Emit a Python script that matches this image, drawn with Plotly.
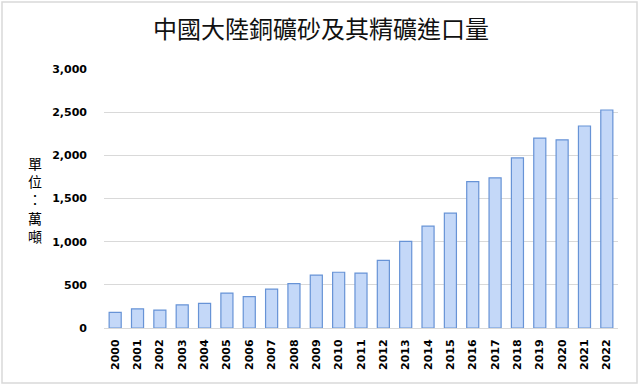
import plotly.graph_objects as go

years = [str(y) for y in range(2000, 2023)]
values = [180, 222, 208, 268, 285, 405, 363, 450, 515, 613, 646, 636,
          783, 1003, 1180, 1330, 1695, 1740, 1970, 2200, 2180, 2340, 2525]
y_ticks = [0, 500, 1000, 1500, 2000, 2500, 3000]
y_tick_labels = ["0", "500", "1,000", "1,500", "2,000", "2,500", "3,000"]
title_text = "中國大陸銅礦砂及其精礦進口量"
unit_text = "單<br>位<br>：<br>萬<br>噸"

fig = go.Figure()
fig.add_trace(go.Bar(
    x=years, y=values,
    marker=dict(color="#c4d8f8", line=dict(color="#6793d6", width=1.2)),
    hoverinfo="x+y",
))

W, H = 640, 386
ml, mr, mt, mb = 104, 22, 69, 58
pw, ph = W - ml - mr, H - mt - mb

def px(x):
    return (x - ml) / pw

def py(y):
    return (H - mb - y) / ph

fig.add_shape(type="rect", xref="paper", yref="paper",
              x0=px(2), x1=px(637), y0=py(383), y1=py(2),
              line=dict(color="#d9d9d9", width=1.5), fillcolor="rgba(0,0,0,0)",
              layer="below")

fig.add_annotation(text=unit_text, xref="paper", yref="paper",
                   x=px(35), y=py(199), showarrow=False,
                   font=dict(family="Noto Sans CJK TC", size=14, color="#000"),
                   xanchor="center", yanchor="middle", align="center")

fig.update_layout(
    width=W, height=H,
    margin=dict(l=ml, r=mr, t=mt, b=mb),
    paper_bgcolor="white", plot_bgcolor="white",
    title=dict(text=title_text, x=321 / W, xref="container", xanchor="center",
               y=1 - 30 / H, yref="container", yanchor="middle",
               font=dict(family="Noto Sans CJK TC", size=24, color="#111")),
    bargap=0.46,
    showlegend=False,
    xaxis=dict(
        type="category", tickangle=-90,
        tickfont=dict(family="DejaVu Sans", size=11, color="#000", weight="bold"),
        showgrid=False, showline=True, linecolor="#d9d9d9", linewidth=1,
        ticks="", ticklabelstandoff=6,
    ),
    yaxis=dict(
        range=[0, 3000], tickvals=y_ticks, ticktext=y_tick_labels,
        tickfont=dict(family="DejaVu Sans", size=11, color="#000", weight="bold"),
        showgrid=True, gridcolor="#d9d9d9", gridwidth=1,
        zeroline=False, showline=False, ticks="", ticklabelstandoff=16,
    ),
)

fig.write_html("out.html", config={"displayModeBar": False},
               post_script="document.body.style.margin='0';")
